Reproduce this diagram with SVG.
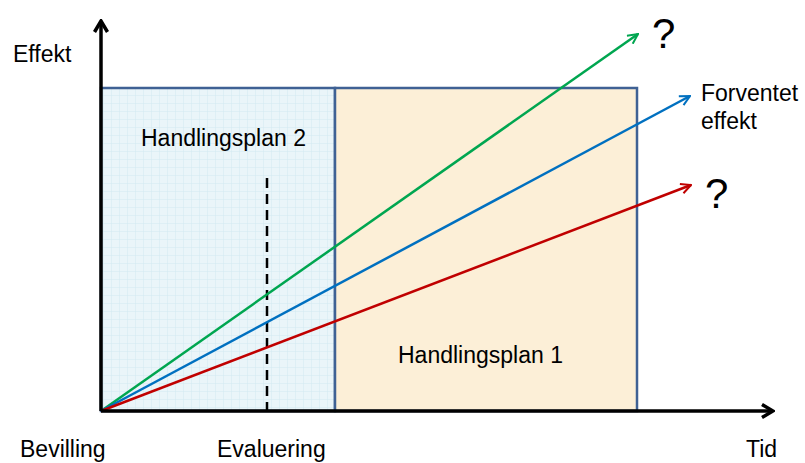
<svg xmlns="http://www.w3.org/2000/svg" width="805" height="463" viewBox="0 0 805 463">
<defs>
<pattern id="grid" width="8" height="8" patternUnits="userSpaceOnUse">
<rect width="8" height="8" fill="#eaf5f9"/>
<path d="M8 0V8M0 8H8" stroke="#d3e9f1" stroke-width="1" fill="none"/>
</pattern>
<marker id="ah" viewBox="0 0 12 12" refX="11" refY="6" markerWidth="12" markerHeight="12" markerUnits="userSpaceOnUse" orient="auto">
<path d="M1 1L11 6L1 11" fill="none" stroke="context-stroke" stroke-width="2"/>
</marker>
<marker id="axh" viewBox="0 0 16 16" refX="14" refY="8" markerWidth="16" markerHeight="16" markerUnits="userSpaceOnUse" orient="auto">
<path d="M3 1.5L14 8L3 14.5" fill="none" stroke="#000" stroke-width="3.5"/>
</marker>
</defs>
<style>
text{font-family:"Liberation Sans",Arial,sans-serif;font-size:23px;fill:#000}
.q{font-size:42px}
.box{stroke:#3f6194;stroke-width:2.5}
.ln{fill:none;stroke-width:2.5}
</style>
<g id="plan2"><rect class="box" x="101" y="88" width="234" height="323" fill="url(#grid)"/><text x="141" y="146">Handlingsplan 2</text></g>
<g id="plan1"><rect class="box" x="335" y="88" width="302" height="323" fill="#fcefd7"/><text x="398" y="363">Handlingsplan 1</text></g>
<g id="connectors">
<line x1="267" y1="178" x2="267" y2="411" stroke="#000" stroke-width="2.5" stroke-dasharray="10 6"/>
<line class="ln" x1="101" y1="411" x2="638" y2="34" stroke="#00a650" marker-end="url(#ah)"/>
<line class="ln" x1="101" y1="411" x2="690" y2="96" stroke="#0070c0" marker-end="url(#ah)"/>
<line class="ln" x1="101" y1="411" x2="691" y2="185" stroke="#c00000" marker-end="url(#ah)"/>
<line x1="101" y1="411" x2="101" y2="21" stroke="#000" stroke-width="3.5" marker-end="url(#axh)"/>
<line x1="101" y1="411" x2="773" y2="411" stroke="#000" stroke-width="3.5" marker-end="url(#axh)"/>
</g>
<g id="labels">
<text x="13" y="62">Effekt</text>
<text class="q" x="652" y="48">?</text>
<text x="701" y="101">Forventet</text>
<text x="701" y="129">effekt</text>
<text class="q" x="705" y="208">?</text>
<text x="20" y="457">Bevilling</text>
<text x="217" y="457">Evaluering</text>
<text x="746" y="457">Tid</text>
</g>
</svg>
